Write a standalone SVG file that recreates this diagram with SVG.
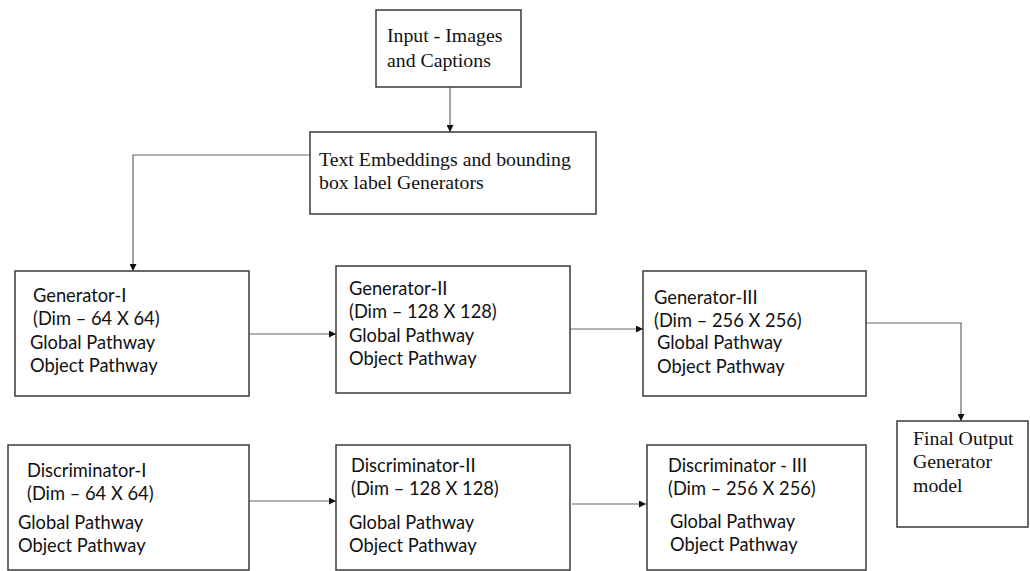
<svg xmlns="http://www.w3.org/2000/svg" width="1030" height="571" viewBox="0 0 1030 571">
  <style>
    .box { fill: #fff; stroke: #3a3a3a; stroke-width: 1.5; }
    .serif { font-family: "Liberation Serif", "Times New Roman", serif; font-size: 19.8px; fill: #111; }
    .sans { font-family: Lato, "Open Sans", sans-serif; font-size: 18.3px; fill: #111; }
    .link { fill: none; stroke: #666; stroke-width: 1.2; }
  </style>
  <defs>
    <marker id="arrow" viewBox="0 0 10 10" refX="10" refY="5" markerWidth="7" markerHeight="7" markerUnits="userSpaceOnUse" orient="auto">
      <path d="M0,0 L10,5 L0,10 z" fill="#111"/>
    </marker>
  </defs>
  <rect width="1030" height="571" fill="#fff"/>

  <g id="connectors">
    <path class="link" d="M450,87 V132" marker-end="url(#arrow)"/>
    <path class="link" d="M310,155 H133 V271" marker-end="url(#arrow)"/>
    <path class="link" d="M249,334 H336" marker-end="url(#arrow)"/>
    <path class="link" d="M570,329 H643" marker-end="url(#arrow)"/>
    <path class="link" d="M866,323 H961 V421" marker-end="url(#arrow)"/>
    <path class="link" d="M249,501 H336" marker-end="url(#arrow)"/>
    <path class="link" d="M572,504 H646" marker-end="url(#arrow)"/>
  </g>

  <g id="input">
    <rect class="box" x="376" y="10" width="145" height="77"/>
    <text class="serif" x="387" y="42">Input - Images</text>
    <text class="serif" x="387" y="67">and Captions</text>
  </g>

  <g id="text-embeddings">
    <rect class="box" x="310" y="132" width="286" height="82"/>
    <text class="serif" x="319" y="166">Text Embeddings and bounding</text>
    <text class="serif" x="319" y="189">box label Generators</text>
  </g>

  <g id="generator-1">
    <rect class="box" x="15" y="271" width="234" height="125"/>
    <text class="sans" x="33" y="302">Generator-I</text>
    <text class="sans" x="33" y="325">(Dim – 64 X 64)</text>
    <text class="sans" x="30" y="349">Global Pathway</text>
    <text class="sans" x="30" y="372">Object Pathway</text>
  </g>

  <g id="generator-2">
    <rect class="box" x="336" y="266" width="234" height="127"/>
    <text class="sans" x="349" y="295">Generator-II</text>
    <text class="sans" x="349" y="318">(Dim – 128 X 128)</text>
    <text class="sans" x="349" y="342">Global Pathway</text>
    <text class="sans" x="349" y="365">Object Pathway</text>
  </g>

  <g id="generator-3">
    <rect class="box" x="643" y="271" width="223" height="125"/>
    <text class="sans" x="654" y="304">Generator-III</text>
    <text class="sans" x="654" y="327">(Dim – 256 X 256)</text>
    <text class="sans" x="657" y="349">Global Pathway</text>
    <text class="sans" x="657" y="373">Object Pathway</text>
  </g>

  <g id="final-output">
    <rect class="box" x="897" y="421" width="131" height="106"/>
    <text class="serif" x="913" y="445">Final Output</text>
    <text class="serif" x="913" y="468">Generator</text>
    <text class="serif" x="913" y="492">model</text>
  </g>

  <g id="discriminator-1">
    <rect class="box" x="8" y="445" width="241" height="125"/>
    <text class="sans" x="27" y="477">Discriminator-I</text>
    <text class="sans" x="27" y="500">(Dim – 64 X 64)</text>
    <text class="sans" x="18" y="529">Global Pathway</text>
    <text class="sans" x="18" y="552">Object Pathway</text>
  </g>

  <g id="discriminator-2">
    <rect class="box" x="336" y="445" width="234" height="125"/>
    <text class="sans" x="351" y="472">Discriminator-II</text>
    <text class="sans" x="351" y="495">(Dim – 128 X 128)</text>
    <text class="sans" x="349" y="529">Global Pathway</text>
    <text class="sans" x="349" y="552">Object Pathway</text>
  </g>

  <g id="discriminator-3">
    <rect class="box" x="647" y="445" width="219" height="125"/>
    <text class="sans" x="668" y="472">Discriminator - III</text>
    <text class="sans" x="668" y="495">(Dim – 256 X 256)</text>
    <text class="sans" x="670" y="528">Global Pathway</text>
    <text class="sans" x="670" y="551">Object Pathway</text>
  </g>
</svg>
